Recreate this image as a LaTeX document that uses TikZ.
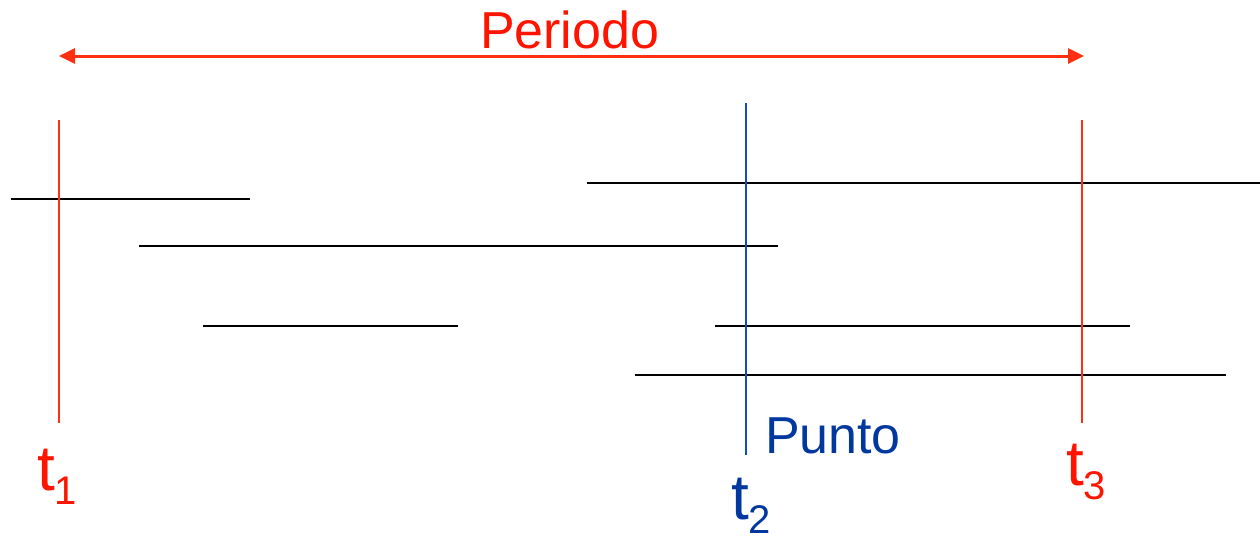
\documentclass[tikz,border=0pt]{standalone}
\usepackage{fontspec}
\setmainfont{Liberation Sans}
\usetikzlibrary{arrows.meta}
\definecolor{pred}{RGB}{255,48,16}
\definecolor{tred}{RGB}{255,20,0}
\definecolor{pblue}{RGB}{10,80,190}
\definecolor{tblue}{RGB}{0,56,160}
\newcommand{\tlab}[1]{\fontsize{64}{64}\selectfont t\raisebox{-14pt}{\fontsize{40}{40}\selectfont #1}}
\tikzset{
  seg/.style={draw=black, line width=2.2pt},
  redline/.style={draw=pred, line width=2.4pt},
  blueline/.style={draw=pblue, line width=2.4pt},
  lab/.style={anchor=base west, inner sep=0pt, outer sep=0pt},
}
\begin{document}
\begin{tikzpicture}[x=1pt,y=-1pt]
\useasboundingbox (0,0) rectangle (1260,539);
% coordinates
\coordinate (aL) at (59,56);
\coordinate (aR) at (1084,56);
\coordinate (r1t) at (59,120); \coordinate (r1b) at (59,423);
\coordinate (r3t) at (1082,120); \coordinate (r3b) at (1082,423);
\coordinate (bt) at (746,103); \coordinate (bb) at (746,455);
\coordinate (s1a) at (11,199); \coordinate (s1b) at (250,199);
\coordinate (s2a) at (587,183); \coordinate (s2b) at (1260,183);
\coordinate (s3a) at (139,246); \coordinate (s3b) at (778,246);
\coordinate (s4a) at (203,326); \coordinate (s4b) at (458,326);
\coordinate (s5a) at (715,326); \coordinate (s5b) at (1130,326);
\coordinate (s6a) at (635,375); \coordinate (s6b) at (1226,375);
% black segments
\draw[seg] (s1a) -- (s1b);
\draw[seg] (s2a) -- (s2b);
\draw[seg] (s3a) -- (s3b);
\draw[seg] (s4a) -- (s4b);
\draw[seg] (s5a) -- (s5b);
\draw[seg] (s6a) -- (s6b);
% verticals
\draw[redline] (r1t) -- (r1b);
\draw[redline] (r3t) -- (r3b);
\draw[blueline] (bt) -- (bb);
% period arrow
\draw[draw=pred, line width=3pt, {Triangle[length=16pt,width=15pt]}-{Triangle[length=16pt,width=15pt]}] (aL) -- (aR);
% labels
\node[lab, text=tred] (per) at (480,48) {\fontsize{52}{52}\selectfont Periodo};
\node[lab, text=tblue] (pun) at (765,453) {\fontsize{52}{52}\selectfont Punto};
\node[lab, text=tred] (t1) at (37,490) {\tlab{1}};
\node[lab, text=tblue] (t2) at (731,519) {\tlab{2}};
\node[lab, text=tred] (t3) at (1066,485) {\tlab{3}};
\end{tikzpicture}
\end{document}
